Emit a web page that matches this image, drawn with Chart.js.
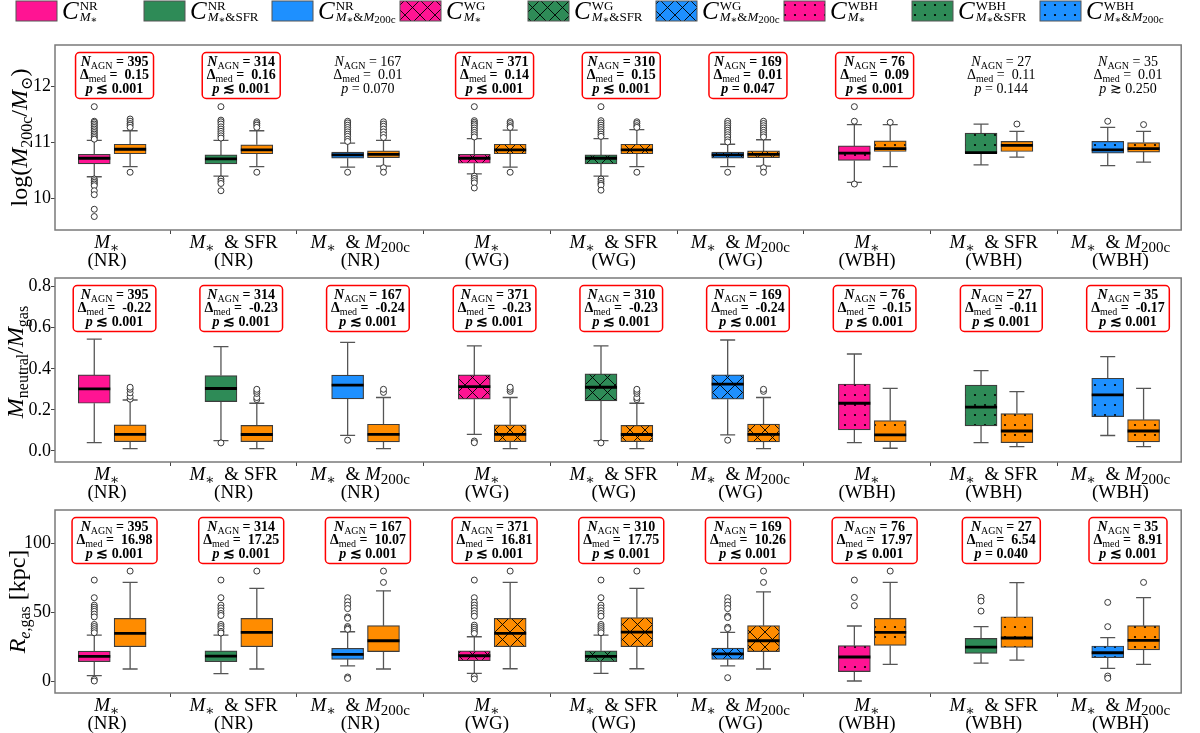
<!DOCTYPE html>
<html lang="en">
<head>
<meta charset="UTF-8">
<title>AGN vs control samples</title>
<script src="https://cdn.jsdelivr.net/npm/chart.js"></script>
<style>
    body { margin: 0; background: #fff; }
    .painel { position: absolute; left: 0; width: 1200px; }
    #p1 { top: 0; height: 272px; }
    #p2 { top: 250px; height: 256px; }
    #p3 { top: 482px; height: 251px; }
</style>
</head>
<body>
<div class="painel" id="p1"><canvas id="c1"></canvas></div>
<div class="painel" id="p2"><canvas id="c2"></canvas></div>
<div class="painel" id="p3"><canvas id="c3"></canvas></div>

<script>
// ---- categories ----
const selection = ['mstar', 'sfr', 'm200c', 'mstar', 'sfr', 'm200c', 'mstar', 'sfr', 'm200c'];
const sample = ['NR', 'NR', 'NR', 'WG', 'WG', 'WG', 'WBH', 'WBH', 'WBH'];
const ctrlColors = ['#ff1493', '#2e8b57', '#1e90ff', '#ff1493', '#2e8b57', '#1e90ff', '#ff1493', '#2e8b57', '#1e90ff'];
const agnColor = '#ff8c00';
const hatches = ['', '', '', 'x', 'x', 'x', '.', '.', '.'];
const nAgn = [395, 314, 167, 371, 310, 169, 76, 27, 35];

// ---- panel 1: log(M200c/Msun) ----  [low whisker, q1, median, q3, high whisker]
const massCtrl = [
    [10.39, 10.62, 10.72, 10.79, 11.04],
    [10.40, 10.62, 10.71, 10.78, 11.04],
    [10.56, 10.72, 10.78, 10.83, 10.99],
    [10.44, 10.63, 10.72, 10.79, 11.07],
    [10.40, 10.62, 10.72, 10.78, 11.07],
    [10.57, 10.72, 10.78, 10.83, 10.97],
    [10.29, 10.68, 10.81, 10.94, 11.32],
    [10.60, 10.81, 10.82, 11.17, 11.33],
    [10.59, 10.81, 10.87, 11.02, 11.27]
];
const massAgn = [
    [10.57, 10.80, 10.88, 10.97, 11.21],
    [10.57, 10.80, 10.87, 10.96, 11.21],
    [10.58, 10.73, 10.79, 10.85, 11.04],
    [10.56, 10.80, 10.87, 10.97, 11.22],
    [10.57, 10.80, 10.87, 10.97, 11.23],
    [10.58, 10.73, 10.79, 10.85, 11.05],
    [10.57, 10.84, 10.89, 11.03, 11.32],
    [10.74, 10.84, 10.95, 11.02, 11.20],
    [10.65, 10.83, 10.89, 11.00, 11.20]
];
const massCtrlOut = [
    [11.64, 11.38, 11.36, 11.33, 11.30, 11.27, 11.24, 11.21, 11.18, 11.15, 11.12, 11.09, 11.06, 10.35, 10.32, 10.29, 10.26, 10.23, 10.14, 10.07, 9.81, 9.68],
    [11.64, 11.40, 11.37, 11.33, 11.28, 11.24, 11.20, 11.16, 11.12, 11.08, 10.35, 10.31, 10.27, 10.14],
    [11.38, 11.35, 11.31, 11.27, 11.23, 11.19, 11.15, 11.11, 11.06, 11.02, 10.47],
    [11.64, 11.39, 11.36, 11.33, 11.30, 11.26, 11.22, 11.18, 11.14, 11.10, 10.40, 10.36, 10.32, 10.28, 10.19],
    [11.64, 11.39, 11.35, 11.31, 11.27, 11.23, 11.19, 11.15, 11.11, 10.35, 10.31, 10.27, 10.24, 10.15],
    [11.38, 11.34, 11.30, 11.26, 11.22, 11.18, 11.14, 11.10, 11.05, 11.01, 10.47],
    [11.64, 11.38, 10.26],
    [],
    [11.38]
];
const massAgnOut = [
    [11.42, 11.38, 11.34, 11.31, 11.27, 10.47],
    [11.37, 11.34, 11.31, 11.27, 10.47],
    [11.37, 11.33, 11.29, 11.24, 11.19, 11.14, 11.09, 10.55, 10.47],
    [11.37, 11.34, 11.30, 11.27, 10.47],
    [11.37, 11.34, 11.30, 11.27, 10.47],
    [11.38, 11.34, 11.30, 11.26, 11.22, 11.18, 11.14, 11.10, 10.55, 10.47],
    [11.36],
    [11.33],
    [11.32]
];
const massTicks = [10, 11, 12];
const massDelta = ['0.15', '0.16', '0.01', '0.14', '0.15', '0.01', '0.09', '0.11', '0.01'];
const massP = ['≲ 0.001', '≲ 0.001', '= 0.070', '≲ 0.001', '≲ 0.001', '= 0.047', '≲ 0.001', '= 0.144', '≳ 0.250'];
const massSig = [true, true, false, true, true, true, true, false, false];

// ---- panel 2: Mneutral/Mgas ----
const fracCtrl = [
    [0.040, 0.232, 0.302, 0.370, 0.544],
    [0.050, 0.240, 0.304, 0.367, 0.508],
    [0.076, 0.253, 0.320, 0.369, 0.529],
    [0.081, 0.252, 0.313, 0.370, 0.511],
    [0.050, 0.244, 0.310, 0.375, 0.511],
    [0.078, 0.252, 0.325, 0.370, 0.540],
    [0.040, 0.102, 0.232, 0.326, 0.472],
    [0.040, 0.122, 0.213, 0.320, 0.391],
    [0.075, 0.167, 0.273, 0.354, 0.459]
];
const fracAgn = [
    [0.011, 0.045, 0.081, 0.127, 0.248],
    [0.011, 0.045, 0.080, 0.124, 0.232],
    [0.011, 0.044, 0.081, 0.130, 0.260],
    [0.011, 0.045, 0.081, 0.127, 0.260],
    [0.011, 0.045, 0.080, 0.124, 0.232],
    [0.011, 0.044, 0.081, 0.131, 0.260],
    [0.013, 0.045, 0.078, 0.148, 0.305],
    [0.021, 0.040, 0.097, 0.182, 0.289],
    [0.021, 0.044, 0.097, 0.152, 0.305]
];
const fracCtrlOut = [[], [0.039], [0.052], [0.048, 0.040], [0.039], [0.052], [], [], []];
const fracAgnOut = [
    [0.252, 0.265, 0.283, 0.300, 0.310],
    [0.250, 0.260, 0.280, 0.290, 0.300],
    [0.285, 0.300],
    [0.290, 0.300, 0.310],
    [0.250, 0.260, 0.280, 0.290, 0.300],
    [0.290, 0.300],
    [], [], []
];
const fracTicks = [0, 0.2, 0.4, 0.6, 0.8];
const fracDelta = ['-0.22', '-0.23', '-0.24', '-0.23', '-0.23', '-0.24', '-0.15', '-0.11', '-0.17'];
const fracP = ['≲ 0.001', '≲ 0.001', '≲ 0.001', '≲ 0.001', '≲ 0.001', '≲ 0.001', '≲ 0.001', '≲ 0.001', '≲ 0.001'];
const fracSig = [true, true, true, true, true, true, true, true, true];

// ---- panel 3: Re,gas [kpc] ----
const reCtrl = [
    [3.9, 14.0, 17.9, 21.7, 33.3],
    [5.3, 14.0, 18.1, 21.9, 33.3],
    [10.9, 15.7, 19.3, 23.7, 35.7],
    [5.6, 14.7, 18.3, 21.9, 32.1],
    [5.6, 14.0, 17.9, 21.9, 33.3],
    [10.9, 15.7, 19.6, 23.9, 35.3],
    [0.0, 6.8, 17.4, 25.6, 39.9],
    [13.0, 20.0, 24.6, 30.9, 39.4],
    [9.2, 16.9, 20.5, 25.4, 31.4]
];
const reAgn = [
    [8.7, 24.9, 34.5, 45.4, 71.5],
    [8.7, 24.9, 35.3, 45.4, 67.2],
    [8.7, 21.3, 29.2, 40.1, 65.4],
    [8.9, 24.9, 34.5, 45.4, 71.5],
    [8.9, 24.9, 35.5, 45.9, 67.2],
    [8.7, 21.3, 29.2, 40.1, 64.7],
    [12.1, 25.8, 35.3, 45.4, 71.5],
    [15.2, 24.4, 31.2, 46.6, 71.3],
    [12.1, 22.5, 29.5, 40.1, 60.4]
];
const reCtrlOut = [
    [73.2, 60.4, 55.0, 53.5, 52.0, 50.5, 48.5, 46.5, 41.0, 39.5, 38.0, 36.5, 35.0, 1.2, 0.0],
    [73.2, 60.4, 55.0, 53.0, 51.0, 49.0, 47.5, 41.0, 39.5, 38.0, 36.0, 34.8],
    [60.4, 57.5, 55.0, 52.5, 46.5, 45.5, 39.5, 38.5, 37.5, 2.9, 1.9],
    [73.2, 60.4, 57.0, 55.0, 53.0, 51.0, 49.0, 47.0, 40.5, 39.0, 37.5, 36.0, 34.5, 3.4, 1.5],
    [73.2, 60.4, 55.0, 53.0, 51.0, 49.0, 47.0, 41.0, 39.5, 38.0, 36.5, 35.0],
    [60.4, 57.5, 55.0, 52.5, 47.0, 46.0, 39.0, 38.0, 2.4],
    [73.2, 60.6, 54.6],
    [60.6, 58.0, 50.7],
    [57.0, 39.4, 3.6, 2.0]
];
const reAgnOut = [[79.7], [79.7], [79.7, 71.5], [79.7], [79.7], [79.7, 71.5], [79.7], [], [71.5]];
const reTicks = [0, 50, 100];
const reDelta = ['16.98', '17.25', '10.07', '16.81', '17.75', '10.26', '17.97', '6.54', '8.91'];
const reP = ['≲ 0.001', '≲ 0.001', '≲ 0.001', '≲ 0.001', '≲ 0.001', '≲ 0.001', '≲ 0.001', '= 0.040', '≲ 0.001'];
const reSig = [true, true, true, true, true, true, true, true, true];

// ---- layout ----
const SERIF = '"Liberation Serif", "DejaVu Serif", serif';
const X_MIN = -0.41, X_MAX = 8.48;
const CTRL_OFF = -0.10, AGN_OFF = 0.183, NOTE_OFF = 0.06;

function makePattern(color, kind) {
    if (!kind) return color;
    const s = kind === 'x' ? 15 : 10;
    const c = document.createElement('canvas');
    c.width = s; c.height = s;
    const g = c.getContext('2d');
    g.fillStyle = color;
    g.fillRect(0, 0, s, s);
    g.strokeStyle = '#000';
    g.fillStyle = '#000';
    if (kind === 'x') {
        g.lineWidth = 0.9;
        g.beginPath();
        g.moveTo(-1, -1); g.lineTo(s + 1, s + 1);
        g.moveTo(-1, s + 1); g.lineTo(s + 1, -1);
        g.stroke();
    } else {
        g.beginPath();
        g.arc(s / 2, s / 2, 1.1, 0, Math.PI * 2);
        g.fill();
    }
    return g.createPattern(c, 'repeat');
}

// rich text: runs of {t, it, b, sz, dy}
function drawRich(ctx, runs, x, y, align, size, bold) {
    let w = 0;
    const parts = runs.map(r => {
        const b = r.b !== undefined ? r.b : bold;
        const font = (r.it ? 'italic ' : '') + (b ? 'bold ' : '') + (r.sz || size) + 'px ' + SERIF;
        ctx.font = font;
        const width = ctx.measureText(r.t).width;
        w += width;
        return { r, font, width };
    });
    if (align === 'measure') return w;
    let cx = align === 'center' ? x - w / 2 : x;
    ctx.textAlign = 'left';
    ctx.textBaseline = 'alphabetic';
    parts.forEach(p => {
        ctx.font = p.font;
        ctx.fillText(p.r.t, cx, y + (p.r.dy || 0));
        cx += p.width;
    });
    return w;
}

function selRuns(sel, subSz, dy, wide) {
    const sp = wide ? '  & ' : '&';
    const runs = [{ t: 'M', it: true }, { t: '∗', sz: subSz, dy: dy }];
    if (sel === 'sfr') runs.push({ t: sp + 'SFR' });
    if (sel === 'm200c') runs.push({ t: sp }, { t: 'M', it: true }, { t: '200c', sz: subSz + 1, dy: dy });
    return runs;
}

function whiskers(stats, off) {
    const pts = [];
    stats.forEach((s, i) => {
        const x = i + off;
        pts.push({ x: x, y: s[0] }, { x: x, y: s[1] }, { x: x, y: null },
                 { x: x, y: s[3] }, { x: x, y: s[4] }, { x: x, y: null });
    });
    return pts;
}

function buildPanel(canvasId, p) {
    const ctrlFill = ctrlColors.map((c, i) => makePattern(c, hatches[i]));
    const agnFill = hatches.map(h => makePattern(agnColor, h));

    const boxDs = (stats, off, fill) => ({
        type: 'bar',
        data: stats.map((s, i) => ({ x: i + off, y: [s[1], s[3]] })),
        backgroundColor: fill,
        borderColor: '#3d3d3d',
        borderWidth: 1.2,
        borderSkipped: false,
        barThickness: 32,
        grouped: false,
        order: 2
    });
    const pointDs = (data, style, radius, color, width, fill, order) => ({
        type: 'line',
        data: data,
        showLine: false,
        pointStyle: style,
        pointRadius: radius,
        pointBorderColor: color,
        pointBorderWidth: width,
        pointBackgroundColor: fill,
        order: order
    });
    const pos = (stats, off, k) => stats.map((s, i) => ({ x: i + off, y: s[k] }));
    const outs = (lists, off) => lists.flatMap((l, i) => l.map(v => ({ x: i + off, y: v })));

    const decor = {
        id: 'decor',
        afterDraw(chart) {
            const { ctx, chartArea: a, scales: { x } } = chart;
            ctx.save();
            ctx.fillStyle = '#000';
            // frame
            ctx.strokeStyle = '#7a7a7a';
            ctx.lineWidth = 1.5;
            ctx.strokeRect(a.left, a.top, a.right - a.left, a.bottom - a.top);

            // annotation boxes
            selection.forEach((_, i) => {
                const cx = x.getPixelForValue(i + NOTE_OFF);
                const top = a.top + 7.5;
                const bold = p.sig[i];
                const lines = [
                    [{ t: 'N', it: true }, { t: 'AGN', sz: 10, dy: 3, b: false }, { t: ' = ' + nAgn[i] }],
                    [{ t: 'Δ' }, { t: 'med', sz: 10, dy: 3, b: false }, { t: ' =  ' + p.delta[i] }],
                    [{ t: 'p', it: true }, { t: ' ' + p.pv[i] }]
                ];
                if (bold) {
                    const w = Math.max(...lines.map(l => drawRich(ctx, l, 0, 0, 'measure', 14, true))) + 9;
                    ctx.beginPath();
                    ctx.roundRect(cx - w / 2, top, w, 46, 4);
                    ctx.fillStyle = '#fff';
                    ctx.fill();
                    ctx.strokeStyle = '#ff0000';
                    ctx.lineWidth = 1.5;
                    ctx.stroke();
                }
                ctx.fillStyle = '#000';
                lines.forEach((l, k) => drawRich(ctx, l, cx, top + 13 + k * 13.5, 'center', 14, bold));
            });

            // category labels under the axis
            selection.forEach((sel, i) => {
                const cx = x.getPixelForValue(i);
                drawRich(ctx, selRuns(sel, 14, 4, true), cx, a.bottom + 18, 'center', 19, false);
                drawRich(ctx, [{ t: '(' + sample[i] + ')' }], cx, a.bottom + 36, 'center', 19, false);
            });

            // y title
            ctx.translate(p.titleX, (a.top + a.bottom) / 2 + p.titleDy);
            ctx.rotate(-Math.PI / 2);
            drawRich(ctx, p.title, 0, 0, 'center', 24, false);
            ctx.setTransform(1, 0, 0, 1, 0, 0);

            // legend across the top
            if (p.legend) {
                selection.forEach((sel, i) => {
                    const lx = 16 + 128 * i;
                    ctx.fillStyle = ctrlFill[i];
                    ctx.fillRect(lx, 1, 41, 20);
                    ctx.strokeStyle = '#555';
                    ctx.lineWidth = 1;
                    ctx.strokeRect(lx, 1, 41, 20);
                    ctx.fillStyle = '#000';
                    const tx = lx + 46;
                    const wc = drawRich(ctx, [{ t: 'C', it: true }], tx, 19, 'left', 25, false);
                    drawRich(ctx, [{ t: sample[i] }], tx + wc + 1, 10, 'left', 13, false);
                    drawRich(ctx, selRuns(sel, 10, 2, false), tx + wc + 1, 21, 'left', 13, false);
                });
            }
            ctx.restore();
        }
    };

    return new Chart(document.getElementById(canvasId), {
        type: 'bar',
        data: {
            datasets: [
                boxDs(p.ctrl, CTRL_OFF, ctrlFill),
                boxDs(p.agn, AGN_OFF, agnFill),
                {
                    type: 'line',
                    data: whiskers(p.ctrl, CTRL_OFF).concat(whiskers(p.agn, AGN_OFF)),
                    borderColor: '#555',
                    borderWidth: 1.3,
                    pointRadius: 0,
                    spanGaps: false,
                    order: 4
                },
                pointDs(pos(p.ctrl, CTRL_OFF, 0).concat(pos(p.ctrl, CTRL_OFF, 4), pos(p.agn, AGN_OFF, 0), pos(p.agn, AGN_OFF, 4)),
                        'line', 7.5, '#555', 1.3, '#555', 3),
                pointDs(pos(p.ctrl, CTRL_OFF, 2).concat(pos(p.agn, AGN_OFF, 2)), 'line', 16, '#000', 2.8, '#000', 0),
                pointDs(outs(p.ctrlOut, CTRL_OFF).concat(outs(p.agnOut, AGN_OFF)), 'circle', 3, '#222', 0.9, '#fff', 1)
            ]
        },
        options: {
            responsive: true,
            maintainAspectRatio: false,
            animation: false,
            events: [],
            layout: { padding: { top: p.padTop, right: 2, bottom: 0, left: 0 } },
            plugins: { legend: { display: false }, tooltip: { enabled: false } },
            scales: {
                x: {
                    type: 'linear',
                    min: X_MIN,
                    max: X_MAX,
                    offset: false,
                    afterBuildTicks: s => { s.ticks = selection.map((_, i) => ({ value: i })); },
                    ticks: { display: false },
                    grid: { drawOnChartArea: false, tickLength: 4, tickColor: '#444' },
                    border: { display: false },
                    afterFit: s => { s.height = p.axisH; }
                },
                y: {
                    min: p.min,
                    max: p.max,
                    afterBuildTicks: s => { s.ticks = p.ticks.map(v => ({ value: v })); },
                    ticks: {
                        color: '#000',
                        padding: 0,
                        font: { family: SERIF, size: 18 },
                        callback: p.fmt
                    },
                    grid: { drawOnChartArea: false, tickLength: 4, tickColor: '#444' },
                    border: { display: false },
                    afterFit: s => { s.width = 55; }
                }
            }
        },
        plugins: [decor]
    });
}

buildPanel('c1', {
    ctrl: massCtrl, agn: massAgn, ctrlOut: massCtrlOut, agnOut: massAgnOut,
    min: 9.44, max: 12.74, ticks: massTicks, fmt: v => v.toFixed(0),
    delta: massDelta, pv: massP, sig: massSig,
    padTop: 45, axisH: 42, titleX: 27, titleDy: 0, legend: true,
    title: [{ t: 'log(' }, { t: 'M', it: true }, { t: '200c', sz: 16, dy: 5 }, { t: '/' },
            { t: 'M', it: true }, { t: '⊙', sz: 16, dy: 5 }, { t: ')' }]
});

buildPanel('c2', {
    ctrl: fracCtrl, agn: fracAgn, ctrlOut: fracCtrlOut, agnOut: fracAgnOut,
    min: -0.054, max: 0.842, ticks: fracTicks, fmt: v => v.toFixed(1),
    delta: fracDelta, pv: fracP, sig: fracSig,
    padTop: 28, axisH: 44, titleX: 23, titleDy: -8, legend: false,
    title: [{ t: 'M', it: true }, { t: 'neutral', sz: 16, dy: 5 }, { t: '/' },
            { t: 'M', it: true }, { t: 'gas', sz: 16, dy: 5 }]
});

buildPanel('c3', {
    ctrl: reCtrl, agn: reAgn, ctrlOut: reCtrlOut, agnOut: reAgnOut,
    min: -8.7, max: 124, ticks: reTicks, fmt: v => v.toFixed(0),
    delta: reDelta, pv: reP, sig: reSig,
    padTop: 28, axisH: 40, titleX: 25, titleDy: 0, legend: false,
    title: [{ t: 'R', it: true }, { t: 'e', it: true, sz: 16, dy: 5 }, { t: ',gas', sz: 16, dy: 5 }, { t: ' [kpc]' }]
});
</script>
</body>
</html>
